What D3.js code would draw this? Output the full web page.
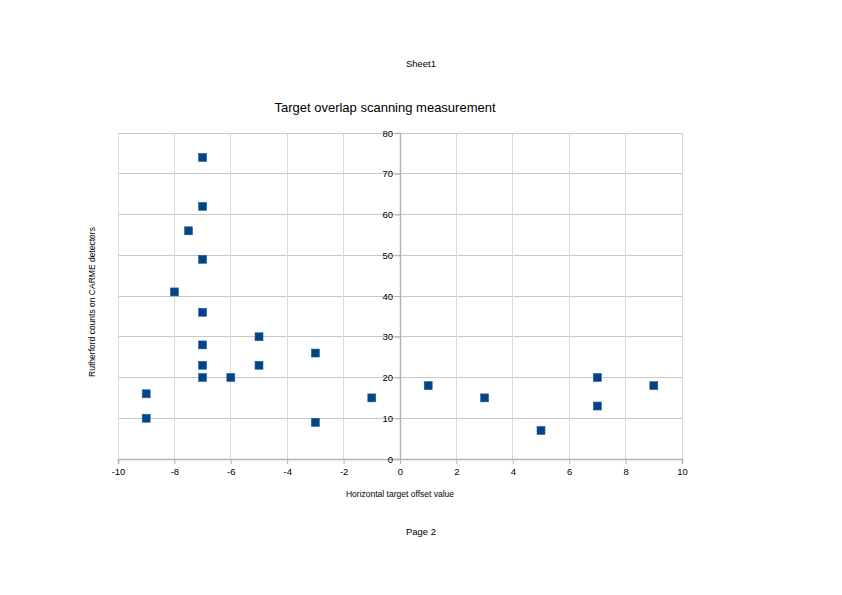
<!DOCTYPE html>
<html>
<head>
<meta charset="utf-8">
<script src="https://cdn.jsdelivr.net/npm/d3@7"></script>
<style>
  body { margin: 0; background: #fff; }
  text { font-family: "Liberation Sans", Arial, sans-serif; fill: #000; }
</style>
</head>
<body>
<svg id="chart" width="842" height="595"></svg>
<script>
// offset values (x) and Rutherford counts (y)
var offsets = [-7, -7, -7.5, -7, -8, -7, -7, -7, -7, -5, -5, -6, -3, -3, -1, -9, -9, 1, 3, 5, 7, 7, 9];
var counts  = [74, 62, 56, 49, 41, 36, 28, 23, 20, 30, 23, 20, 26, 9, 15, 16, 10, 18, 15, 7, 20, 13, 18];
var xTicks = [-10, -8, -6, -4, -2, 0, 2, 4, 6, 8, 10];
var yTicks = [0, 10, 20, 30, 40, 50, 60, 70, 80];

var svg = d3.select("#chart");

var margin = { top: 133, left: 118 },
    w = 564,
    h = 326;

var x = d3.scaleLinear().domain([-10, 10]).range([margin.left, margin.left + w]);
var y = d3.scaleLinear().domain([0, 80]).range([margin.top + h, margin.top]);

// plain hyphen for negatives, like the original
var fmt = d => String(d);

// header / footer
svg.append("text").attr("x", 421).attr("y", 67).attr("text-anchor", "middle")
    .style("font-size", "9.5px").text("Sheet1");
svg.append("text").attr("x", 421).attr("y", 535).attr("text-anchor", "middle")
    .style("font-size", "9.5px").text("Page 2");

// title
svg.append("text").attr("x", 385).attr("y", 112).attr("text-anchor", "middle")
    .style("font-size", "13px").text("Target overlap scanning measurement");

// grid
var grid = svg.append("g");
grid.selectAll(".hg").data(yTicks).join("line").attr("class", "hg")
    .attr("x1", x(-10)).attr("x2", x(10))
    .attr("y1", d => y(d)).attr("y2", d => y(d))
    .attr("stroke", "#c8c8c8").attr("stroke-width", 1).attr("shape-rendering", "crispEdges");
grid.selectAll(".vg").data(xTicks).join("line").attr("class", "vg")
    .attr("x1", d => x(d)).attr("x2", d => x(d))
    .attr("y1", y(0)).attr("y2", y(80))
    .attr("stroke", "#d9d9d9").attr("stroke-width", 1).attr("shape-rendering", "crispEdges");

// x axis at y=0
var xAxis = svg.append("g")
    .attr("transform", `translate(0, ${y(0)})`)
    .call(d3.axisBottom(x).tickValues(xTicks).tickSize(5).tickPadding(4).tickFormat(fmt));
xAxis.select(".domain").attr("stroke", "#b3b3b3").attr("stroke-width", 1.5);
xAxis.selectAll(".tick line").attr("stroke", "#b3b3b3");
xAxis.selectAll("text").style("font-size", "9.5px").style("font-family", "Liberation Sans, Arial, sans-serif");

// y axis at x=0
var yAxis = svg.append("g")
    .attr("transform", `translate(${x(0)}, 0)`)
    .call(d3.axisLeft(y).tickValues(yTicks).tickSize(5).tickPadding(2).tickFormat(fmt));
yAxis.select(".domain").attr("stroke", "#b3b3b3").attr("stroke-width", 1.5);
yAxis.selectAll(".tick line").attr("stroke", "#b3b3b3");
yAxis.selectAll("text").style("font-size", "9.5px").style("font-family", "Liberation Sans, Arial, sans-serif");

// axis titles
svg.append("text").attr("x", 400).attr("y", 497).attr("text-anchor", "middle")
    .style("font-size", "8.5px").text("Horizontal target offset value");
svg.append("text")
    .attr("transform", "translate(95, 302) rotate(-90)")
    .attr("text-anchor", "middle")
    .style("font-size", "8.5px").text("Rutherford counts on CARME detectors");

// points
var pts = offsets.map((o, i) => ({ x: o, y: counts[i] }));
svg.append("g").selectAll("rect")
    .data(pts)
    .join("rect")
    .attr("x", d => x(d.x) - 4)
    .attr("y", d => y(d.y) - 4)
    .attr("width", 8)
    .attr("height", 8)
    .attr("fill", "#004586")
    .attr("stroke", "#2a6199")
    .attr("stroke-width", 0.6);
</script>
</body>
</html>
